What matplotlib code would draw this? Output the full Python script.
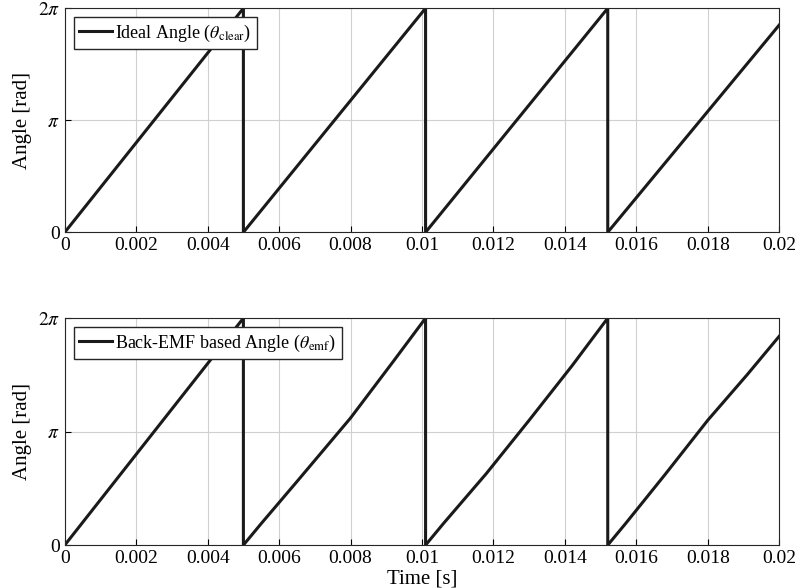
import numpy as np
import matplotlib
matplotlib.use("Agg")
import matplotlib.pyplot as plt

plt.rcParams['font.family'] = ['Liberation Serif', 'DejaVu Serif']
plt.rcParams['mathtext.fontset'] = 'stix'

pi = np.pi
t_ideal = [0, 0.00500, 0.00500, 0.0101, 0.0101, 0.0152, 0.0152, 0.02]
a_ideal = [0, 2*pi, 0, 2*pi, 0, 2*pi, 0, 1.85*pi]

t_emf = [0, 0.0005, 0.0015, 0.0025, 0.0035, 0.0045, 0.00500, 0.00500, 0.0055, 0.0065, 0.0080, 0.0092,
         0.0101, 0.0101, 0.0106, 0.0118, 0.0130, 0.0142, 0.0152, 0.0152, 0.0157, 0.0168, 0.0180, 0.0191, 0.02]
a_emf = [0, 0.20*pi, 0.60*pi, 1.00*pi, 1.40*pi, 1.80*pi, 2*pi, 0, 0.19*pi, 0.56*pi, 1.12*pi, 1.62*pi,
         2*pi, 0, 0.19*pi, 0.63*pi, 1.10*pi, 1.58*pi, 2*pi, 0, 0.19*pi, 0.62*pi, 1.10*pi, 1.50*pi, 1.84*pi]

xticks = [0, 0.002, 0.004, 0.006, 0.008, 0.01, 0.012, 0.014, 0.016, 0.018, 0.02]
xticklabels = ['0', '0.002', '0.004', '0.006', '0.008', '0.01', '0.012', '0.014', '0.016', '0.018', '0.02']
yticks = [0, pi, 2*pi]
yticklabels = ['0', r'$\pi$', r'$2\pi$']

fig = plt.figure(figsize=(8, 5.88), dpi=100)
ax1 = fig.add_axes([0.081, 0.605, 0.893, 0.381])
ax2 = fig.add_axes([0.081, 0.073, 0.893, 0.386])

for ax, t, a, lab in [(ax1, t_ideal, a_ideal, r'Ideal Angle ($\theta_{\rm clear}$)'),
                      (ax2, t_emf, a_emf, r'Back-EMF based Angle ($\theta_{\rm emf}$)')]:
    ax.plot(t, a, color='#1a1a1a', lw=2.2, label=lab)
    ax.set_xlim(0, 0.02)
    ax.set_ylim(0, 2*pi)
    ax.set_xticks(xticks)
    ax.set_xticklabels(xticklabels, fontsize=14)
    ax.set_yticks(yticks)
    ax.set_yticklabels(yticklabels, fontsize=14)
    ax.grid(True, color='#d0d0d0', lw=0.8)
    ax.set_ylabel('Angle [rad]', fontsize=15)
    ax.tick_params(direction='in', length=4)
    for s in ax.spines.values():
        s.set_color('#262626')
    ax.legend(loc='upper left', fontsize=13, fancybox=False, framealpha=1,
              edgecolor='#262626', handlelength=1.8, handletextpad=0.2, borderpad=0.3)
ax2.set_xlabel('Time [s]', fontsize=15, labelpad=2)
fig.savefig('out.png', dpi=100)
